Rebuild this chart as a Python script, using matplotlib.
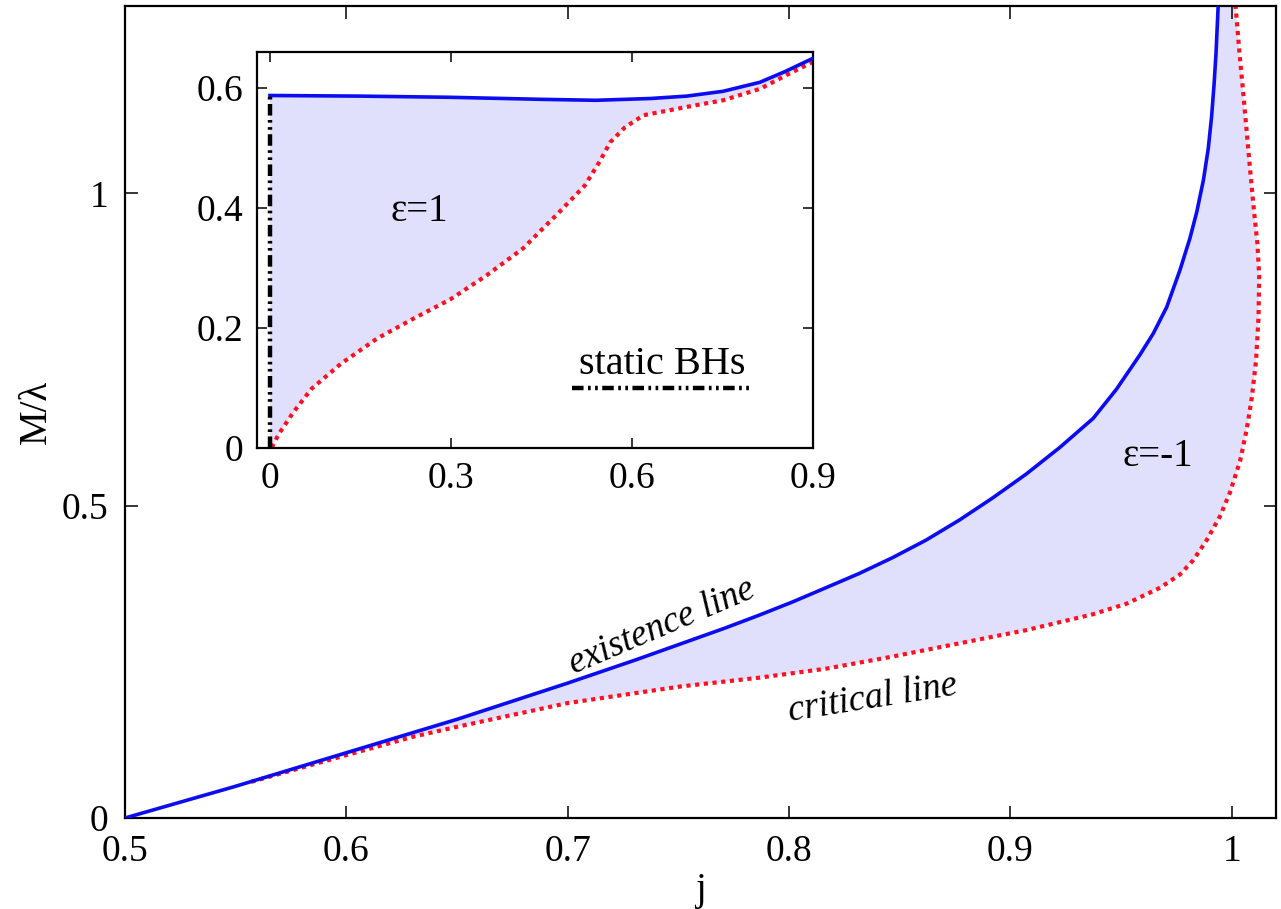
import numpy as np
import matplotlib
matplotlib.use("Agg")
import matplotlib.pyplot as plt

# main panel: epsilon = -1
EXIST_J = [0.5, 0.549, 0.6, 0.65, 0.7, 0.731, 0.771, 0.7864, 0.8015, 0.8166, 0.8317,
           0.8468, 0.8619, 0.877, 0.8921, 0.9072, 0.9223, 0.9374, 0.9479, 0.9585,
           0.9645, 0.9706, 0.9766, 0.9811, 0.9842, 0.9872, 0.9894, 0.9909, 0.992,
           0.9929, 0.994]
EXIST_M = [0.0, 0.0498, 0.1045, 0.158, 0.216, 0.2535, 0.304, 0.3246, 0.3458, 0.3686, 0.3915,
           0.4169, 0.4449, 0.4771, 0.5127, 0.5508, 0.5932, 0.6398, 0.6864, 0.7415,
           0.7754, 0.8178, 0.8771, 0.928, 0.9703, 1.0212, 1.072, 1.1229, 1.1737,
           1.2246, 1.31]
CRIT_J = [0.557, 0.6, 0.63, 0.65, 0.675, 0.7, 0.751, 0.7864, 0.8166, 0.8468, 0.877,
          0.9072, 0.9374, 0.9525, 0.9676, 0.9766, 0.9826, 0.9887, 0.9947, 0.9992,
          1.0038, 1.0068, 1.0091, 1.011, 1.0121, 1.0124, 1.0116, 1.0101, 1.0083,
          1.0068, 1.0053, 1.0035, 1.0015]
CRIT_M = [0.0579, 0.1007, 0.130, 0.146, 0.165, 0.184, 0.2106, 0.2246, 0.239, 0.2585, 0.2797,
          0.3008, 0.3263, 0.3432, 0.3686, 0.3898, 0.4127, 0.4449, 0.4831, 0.5212,
          0.572, 0.6229, 0.6737, 0.7331, 0.8008, 0.8686, 0.9195, 0.9703, 1.0381,
          1.0975, 1.1568, 1.2246, 1.31]

# inset: epsilon = 1
EXIST_IN_J = [0.0, 0.148, 0.299, 0.45, 0.54, 0.631, 0.691, 0.751, 0.812, 0.854, 0.9]
EXIST_IN_M = [0.587, 0.586, 0.584, 0.5806, 0.579, 0.582, 0.586, 0.594, 0.609, 0.627, 0.649]
CRIT_IN_J = [0.003, 0.015, 0.039, 0.069, 0.118, 0.178, 0.238, 0.299, 0.359, 0.4195, 0.48,
             0.522, 0.546, 0.564, 0.5885, 0.619, 0.691, 0.751, 0.812, 0.860, 0.9]
CRIT_IN_M = [0.0, 0.023, 0.059, 0.098, 0.14, 0.182, 0.215, 0.247, 0.287, 0.332, 0.393,
             0.437, 0.476, 0.509, 0.534, 0.554, 0.568, 0.579, 0.598, 0.623, 0.643]
STATIC_J = [0.0, 0.0]
STATIC_M = [0.0, 0.587]

XTICKS = [0.5, 0.6, 0.7, 0.8, 0.9, 1.0]
XTICKLABELS = ["0.5", "0.6", "0.7", "0.8", "0.9", "1"]
YTICKS = [0.0, 0.5, 1.0]
YTICKLABELS = ["0", "0.5", "1"]
IN_XTICKS = [0.0, 0.3, 0.6, 0.9]
IN_XTICKLABELS = ["0", "0.3", "0.6", "0.9"]
IN_YTICKS = [0.0, 0.2, 0.4, 0.6]
IN_YTICKLABELS = ["0", "0.2", "0.4", "0.6"]

BLUE = "#0c0cf0"
RED = "#ff1020"
FILL = "#e0e0fc"
DOTS = (0, (1.0, 1.1))
DASHDOTDOT = (0, (2.6, 1.0, 0.6, 1.0, 0.6, 1.0))

plt.rcParams["font.family"] = ["Liberation Serif", "DejaVu Serif"]

fig = plt.figure(figsize=(12.81, 9.09), dpi=100)
ax = fig.add_axes([0.0976, 0.1001, 0.8985, 0.8933])


def style(a, size, length, pad):
    a.tick_params(which="both", direction="in", top=True, right=True,
                  length=length, width=1.1, labelsize=size, pad=pad)
    for sp in a.spines.values():
        sp.set_linewidth(1.6)


# main panel
ej, em = np.array(EXIST_J), np.array(EXIST_M)
cj, cm = np.array(CRIT_J), np.array(CRIT_M)
keep = ej >= cj[0]
poly_j = np.concatenate([[cj[0]], ej[keep], cj[::-1]])
poly_m = np.concatenate([[cm[0]], em[keep], cm[::-1]])
ax.fill(poly_j, poly_m, color=FILL, lw=0, zorder=1)
ax.plot(cj, cm, color=RED, lw=3.0, ls=DOTS, dash_capstyle="butt", zorder=2)
ax.plot(ej, em, color=BLUE, lw=2.6, zorder=3)

ax.set_xlim(0.5, 1.02)
ax.set_ylim(0, 1.3)
ax.set_xticks(XTICKS)
ax.set_xticklabels(XTICKLABELS)
ax.set_yticks(YTICKS)
ax.set_yticklabels(YTICKLABELS)
style(ax, 27, 9, 12)
ax.set_xlabel("j", fontsize=28, labelpad=2)
ax.set_ylabel("M/λ", fontsize=28, labelpad=5)

ax.text(0.7424, 0.307, "existence line", fontsize=26.5, style="italic",
        rotation=23, ha="center", va="center", rotation_mode="anchor")
ax.text(0.8378, 0.191, "critical line", fontsize=26.5, style="italic",
        rotation=9, ha="center", va="center", rotation_mode="anchor")
ax.text(0.9665, 0.579, "ε=-1", fontsize=28, ha="center", va="center")

# inset
ax_in = fig.add_axes([0.2006, 0.5077, 0.434, 0.4354], zorder=5)
ax_in.set_facecolor("white")
ij, im = np.array(EXIST_IN_J), np.array(EXIST_IN_M)
kj, km = np.array(CRIT_IN_J), np.array(CRIT_IN_M)
ax_in.fill(np.concatenate([ij, kj[::-1], [0.0]]), np.concatenate([im, km[::-1], [0.0]]),
           color=FILL, lw=0, zorder=1)
ax_in.plot(kj, km, color=RED, lw=3.0, ls=DOTS, dash_capstyle="butt", zorder=2)
ax_in.plot(ij, im, color=BLUE, lw=2.6, zorder=3)
ax_in.plot(STATIC_J, STATIC_M, color="black", lw=3.2, ls=DASHDOTDOT,
           dash_capstyle="butt", zorder=4)

ax_in.set_xlim(-0.0215, 0.9)
ax_in.set_ylim(0, 0.66)
ax_in.set_xticks(IN_XTICKS)
ax_in.set_xticklabels(IN_XTICKLABELS)
ax_in.set_yticks(IN_YTICKS)
ax_in.set_yticklabels(IN_YTICKLABELS)
style(ax_in, 27, 7, 10)

ax_in.text(0.247, 0.393, "ε=1", fontsize=28, ha="center", va="center")
# key for the static line
ax_in.text(0.729, 0.21, "static BHs", fontsize=29, ha="center", va="center",
           transform=ax_in.transAxes)
ax_in.plot([0.566, 0.891], [0.1515, 0.1515], color="black", lw=3.2, ls=DASHDOTDOT,
           dash_capstyle="butt", transform=ax_in.transAxes)

fig.savefig("out.png", dpi=100)
